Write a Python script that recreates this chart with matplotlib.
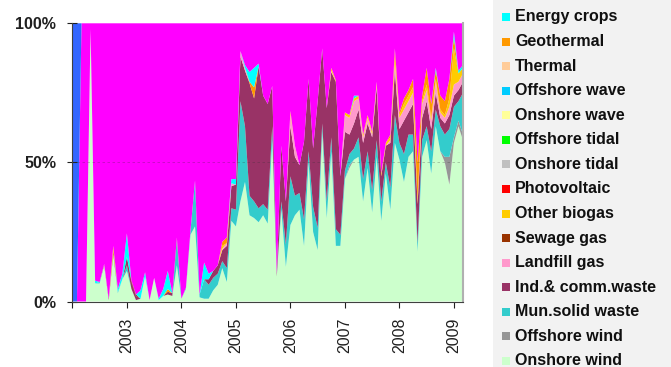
import numpy as np
import matplotlib
matplotlib.use("Agg")
import matplotlib.pyplot as plt
from matplotlib.patches import Rectangle

plt.rcParams['font.family'] = ['Liberation Sans', 'DejaVu Sans']

n_months = 87          # Jan 2002 .. Mar 2009
year_ticks = [0, 12, 24, 36, 48, 60, 72, 84]
year_labels = ['', '2003', '2004', '2005', '2006', '2007', '2008', '2009']

# monthly shares (percent)
onshore_wind = [0, 0, 0, 0, 98, 6.5, 6.5, 13, 0.5, 17, 3, 8, 11, 4.5, 0.5, 1, 9, 0.5, 8.5, 0.5,
                2, 2.5, 2, 13, 1, 4.5, 24, 27, 1.5, 1, 1, 4, 6, 12, 7, 29, 27, 36, 43, 31,
                30, 28.5, 31, 28, 58, 9, 33, 12.5, 27.5, 31, 33, 20, 50, 25, 18.5, 61, 30, 54, 20, 20,
                44, 48, 51, 52, 36, 48, 32, 52, 29, 46, 33, 57, 51, 43, 52, 54, 18, 52, 58, 46,
                63, 54, 50, 42, 57, 63, 58]
mun_solid_waste = [0, 0, 0, 0, 0, 0, 0.5, 0, 0, 0, 0.5, 0, 2, 0, 0, 0, 0, 0, 0, 0,
                   0, 0, 0, 9, 0, 0.5, 1.5, 16.5, 1, 7, 5, 4.5, 4, 2.5, 5, 4.5, 6, 36, 20, 7,
                   6, 5, 4, 5, 5, 0, 3, 8, 17.5, 7, 6, 9.5, 4, 9, 8, 3, 6, 5, 6, 4,
                   3, 4, 4, 7, 8, 6, 8, 6, 7, 4, 8, 10, 6, 10, 8, 6, 3, 6, 5, 8,
                   6, 9, 8, 10, 11, 7, 15]
ind_comm_waste = [0, 0, 0, 0, 0, 0, 0, 0.5, 0.5, 0, 0, 0, 3, 2.5, 1.5, 0, 0, 0, 0, 0,
                  0, 1, 1, 1, 0, 0, 0, 0, 0, 0, 2, 2.5, 3, 4, 8, 8, 9, 16, 20, 40.5,
                  37, 51, 39, 38, 14.5, 1, 20, 15.5, 18, 14, 10, 28, 26, 21, 45.5, 27, 33.5, 23.5, 53, 21,
                  14, 7, 9, 10, 13, 10, 19, 19, 9, 6, 16, 16, 5, 12, 8, 11, 14, 8, 9, 8,
                  6, 3, 4, 5, 4, 4, 4]
large_hydro = [0, 0, 100, 100, 2, 92.5, 93, 86.5, 99, 80, 95.5, 90, 75.5, 92.5, 97.5, 96, 89.5, 99.5, 91.5, 99,
               95.5, 89, 97, 77, 99, 95, 74.5, 56.5, 97.5, 86, 90, 89, 87, 78.5, 77, 56, 56, 10, 15, 17.5,
               16, 14.5, 26, 29, 22.5, 90, 44, 64, 31.5, 44, 51, 42.5, 20, 45, 28, 9, 30.5, 16, 20.5, 55,
               32, 33, 26, 26, 40, 33, 39, 21, 54, 43, 40, 9, 32, 27, 24, 20, 50, 26, 16, 29,
               16, 26, 28, 20, 3, 17, 15]

# smaller series, month index -> share
offshore_wind = {61: 1, 82: 2, 83: 10, 84: 2, 85: 2, 86: 2}
landfill_gas = {33: 0.5, 34: 1, 35: 1, 37: 2, 38: 1, 48: 4.5, 49: 4, 57: 0.5, 60: 6, 61: 6, 62: 8,
                63: 4, 64: 2, 65: 2, 66: 1, 67: 1, 70: 1, 71: 3, 72: 4, 73: 4, 74: 4, 75: 4, 77: 5,
                78: 4, 79: 3, 80: 4, 81: 2, 82: 2, 83: 3, 84: 4, 85: 3, 86: 3}
sewage_gas = {9: 1, 13: 0.5, 14: 0.5}
other_biogas = {9: 1, 33: 1, 48: 1, 57: 1, 58: 0.5, 60: 1, 61: 1, 62: 1, 63: 1, 64: 1, 65: 1, 66: 1,
                67: 1, 68: 1, 69: 1, 70: 1, 71: 2, 72: 1, 73: 2, 74: 2, 75: 2, 76: 1, 77: 1, 78: 2,
                79: 1, 80: 1, 81: 1, 82: 1, 83: 3, 84: 13, 85: 3, 86: 2}
photovoltaic = {}
onshore_tidal = {}
offshore_tidal = {}
onshore_wave = {}
offshore_wave = {}
thermal = {}
geothermal = {9: 1, 21: 1, 33: 1.5, 34: 2, 39: 0.5, 40: 4, 70: 1, 71: 3, 72: 1, 73: 2, 74: 2, 75: 3,
              76: 14, 77: 2, 78: 6, 79: 5, 80: 3, 81: 5, 82: 5, 83: 7, 84: 4}
energy_crops = {5: 1, 10: 1, 11: 2, 12: 8.5, 15: 3, 16: 1.5, 19: 0.5, 20: 2.5, 21: 6.5, 29: 6, 30: 2,
                35: 1.5, 36: 2, 38: 1, 39: 3.5, 40: 7, 41: 1, 62: 1, 80: 1, 84: 2, 85: 1, 86: 1}
cofiring = {0: 100, 1: 100}


def dense(d):
    a = np.zeros(n_months)
    for k, v in d.items():
        a[k] = v
    return a


# bottom to top of the stack
series = [
    ('Onshore wind', np.array(onshore_wind, float), '#ccffcc'),
    ('Offshore wind', dense(offshore_wind), '#969696'),
    ('Mun.solid waste', np.array(mun_solid_waste, float), '#33cccc'),
    ('Ind.& comm.waste', np.array(ind_comm_waste, float), '#993366'),
    ('Landfill gas', dense(landfill_gas), '#ff99cc'),
    ('Sewage gas', dense(sewage_gas), '#993300'),
    ('Other biogas', dense(other_biogas), '#ffcc00'),
    ('Photovoltaic', dense(photovoltaic), '#ff0000'),
    ('Onshore tidal', dense(onshore_tidal), '#c0c0c0'),
    ('Offshore tidal', dense(offshore_tidal), '#00ff00'),
    ('Onshore wave', dense(onshore_wave), '#ffff99'),
    ('Offshore wave', dense(offshore_wave), '#00ccff'),
    ('Thermal', dense(thermal), '#ffcc99'),
    ('Geothermal', dense(geothermal), '#ff9900'),
    ('Energy crops', dense(energy_crops), '#00ffff'),
    ('Large hydro', np.array(large_hydro, float), '#ff00ff'),
    ('Co-firing', dense(cofiring), '#3366ff'),
]

values = np.vstack([s[1] for s in series])
shares = values / values.sum(axis=0) * 100
months = np.arange(n_months)

W, H = 671, 367
fig = plt.figure(figsize=(W / 100, H / 100), dpi=100)

# legend panel background
fig.patches.append(Rectangle((493 / W, 0), 1 - 493 / W, 1, transform=fig.transFigure,
                             facecolor='#f2f2f2', edgecolor='none', zorder=0))

ax = fig.add_axes([72.4 / W, 1 - 301.5 / H, (463 - 72.4) / W, (301.5 - 23.3) / H])
ax.stackplot(months, shares, colors=[s[2] for s in series], linewidth=0)
ax.set_xlim(0, 86)
ax.set_ylim(0, 100)

ax.axhline(50, color='#303030', lw=0.6, ls=(0, (3, 3)), alpha=0.3, zorder=3)

ax.set_yticks([0, 50, 100])
ax.set_yticklabels(['0%', '50%', '100%'], fontsize=11.5, fontweight='bold')
ax.tick_params(axis='y', direction='inout', length=7.5, width=0.8, pad=8, colors='#202020')
ax.set_xticks(year_ticks)
ax.set_xticklabels(year_labels, rotation=90, fontsize=11.5)
ax.tick_params(axis='x', direction='out', length=4.5, width=0.8, pad=7, colors='#202020')

ax.spines['top'].set_visible(False)
ax.spines['left'].set_color('#404040')
ax.spines['bottom'].set_color('#404040')
ax.spines['right'].set_color('#b0b0b0')
ax.spines['right'].set_linewidth(1.5)

# legend (the two top entries are cut off in the source image)
legend_items = [s for s in series[:15]][::-1]
for k, (label, _, color) in enumerate(legend_items):
    yc = 17 + 24.57 * k
    fig.patches.append(Rectangle((502 / W, 1 - (yc + 4) / H), 8 / W, 8 / H,
                                 transform=fig.transFigure, facecolor=color,
                                 edgecolor='none', zorder=2))
    fig.text(515 / W, 1 - yc / H, label, fontsize=11.5, fontweight='bold',
             va='center', ha='left', color='#101010')

fig.savefig('out.png', dpi=100)
